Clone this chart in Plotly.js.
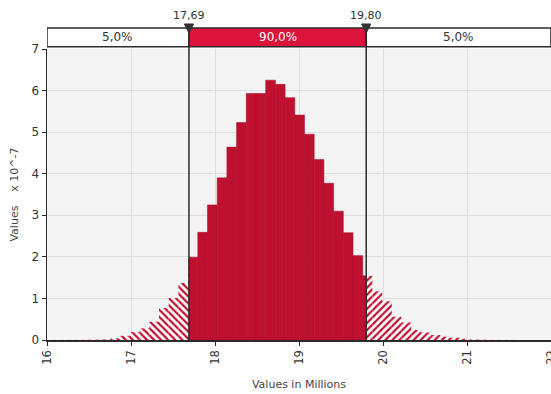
<!DOCTYPE html>
<html><head><meta charset="utf-8">
<script src="https://cdn.plot.ly/plotly-3.0.1.min.js"></script>
<style>html,body{margin:0;padding:0;background:#fff}#chart{width:551px;height:394px}</style>
</head><body><div id="chart"></div>
<script>
// ---- data (density values in units of 10^-7) ----
const binWidth = 0.1155;
const binLeft = [16.0625,16.178,16.2935,16.409,16.5245,16.640,16.7555,16.871,16.9865,17.102,17.2175,17.333,17.4485,17.564,17.6795,17.795,17.9105,18.026,18.1415,18.257,18.3725,18.488,18.6035,18.719,18.8345,18.95,19.0655,19.181,19.2965,19.412,19.5275,19.643,19.7585,19.874,19.9895,20.105,20.2205,20.336,20.4515,20.567,20.6825,20.798,20.9135,21.029,21.1445,21.26,21.3755,21.491];
const density = [0.002,0.003,0.004,0.005,0.008,0.015,0.04,0.10,0.19,0.28,0.44,0.77,1.01,1.37,1.99,2.59,3.25,3.90,4.64,5.23,5.93,5.93,6.25,6.15,5.83,5.41,4.95,4.34,3.77,3.10,2.58,2.03,1.545,1.17,0.93,0.56,0.42,0.24,0.18,0.12,0.08,0.055,0.03,0.01,0.006,0.004,0.003,0.002];
const pLow = 17.69, pHigh = 19.80;
const pLowLabel = "17,69", pHighLabel = "19,80";
const bandLabels = ["5,0%", "90,0%", "5,0%"];
const xTickVals = [16,17,18,19,20,21,22];
const xTickText = ["16","17","18","19","20","21","22"];
const yTickVals = [0,1,2,3,4,5,6,7];
const xRange = [16,22], yRange = [0,7];

function piece(lo, hi){
  const x=[], y=[], w=[];
  for(let i=0;i<binLeft.length;i++){
    const a=Math.max(binLeft[i],lo), b=Math.min(binLeft[i]+binWidth,hi);
    if(b-a>1e-9){ x.push((a+b)/2); w.push(b-a); y.push(density[i]); }
  }
  return {x,y,w};
}
const L=piece(-Infinity,pLow), M=piece(pLow,pHigh), R=piece(pHigh,Infinity);
const red='#c0102f';
const hatch = (shape)=>({color:red, line:{width:0}, pattern:{shape:shape, fillmode:'replace', bgcolor:'#ffffff', size:5, solidity:0.45}});
const traces=[
  {type:'bar', x:L.x, y:L.y, width:L.w, marker:hatch('\\'), hoverinfo:'skip'},
  {type:'bar', x:M.x, y:M.y, width:M.w, marker:{color:red, line:{color:'#a00c28', width:0.5}}, hoverinfo:'skip'},
  {type:'bar', x:R.x, y:R.y, width:R.w, marker:hatch('/'), hoverinfo:'skip'}
];

const bandY0=1.008, bandY1=1.072, triTop=1.086, triBot=1.055, lblY=1.115;
const triHalf=0.055;
const lineC='#2b2b2b';
const shapes=[
  {type:'rect', xref:'x', yref:'paper', x0:xRange[0], x1:pLow, y0:bandY0, y1:bandY1, fillcolor:'#ffffff', line:{color:lineC,width:1.5}, layer:'above'},
  {type:'rect', xref:'x', yref:'paper', x0:pLow, x1:pHigh, y0:bandY0, y1:bandY1, fillcolor:'#dc143c', line:{color:lineC,width:1.5}, layer:'above'},
  {type:'rect', xref:'x', yref:'paper', x0:pHigh, x1:xRange[1], y0:bandY0, y1:bandY1, fillcolor:'#ffffff', line:{color:lineC,width:1.5}, layer:'above'},
  {type:'line', xref:'x', yref:'paper', x0:pLow, x1:pLow, y0:0, y1:bandY1, line:{color:lineC,width:1.5}, layer:'above'},
  {type:'line', xref:'x', yref:'paper', x0:pHigh, x1:pHigh, y0:0, y1:bandY1, line:{color:lineC,width:1.5}, layer:'above'}
];
[pLow,pHigh].forEach(p=>{
  shapes.push({type:'path', xref:'x', yref:'paper', path:`M ${p-triHalf},${triTop} L ${p+triHalf},${triTop} L ${p},${triBot} Z`, fillcolor:'#333', line:{color:'#333',width:1}, layer:'above'});
});
const annotations=[
  {xref:'x', yref:'paper', x:pLow, y:lblY, text:pLowLabel, showarrow:false, yanchor:'middle', font:{size:11,color:'#333'}},
  {xref:'x', yref:'paper', x:pHigh, y:lblY, text:pHighLabel, showarrow:false, yanchor:'middle', font:{size:11,color:'#333'}},
  {xref:'x', yref:'paper', x:(xRange[0]+pLow)/2, y:(bandY0+bandY1)/2, text:bandLabels[0], showarrow:false, yanchor:'middle', font:{size:12,color:'#333'}},
  {xref:'x', yref:'paper', x:(pLow+pHigh)/2, y:(bandY0+bandY1)/2, text:bandLabels[1], showarrow:false, yanchor:'middle', font:{size:12,color:'#ffffff'}},
  {xref:'x', yref:'paper', x:(pHigh+xRange[1])/2, y:(bandY0+bandY1)/2, text:bandLabels[2], showarrow:false, yanchor:'middle', font:{size:12,color:'#333'}}
];
const layout={
  width:551, height:394, margin:{l:47,r:0,t:49,b:54},
  paper_bgcolor:'#ffffff', plot_bgcolor:'#f4f4f4',
  font:{family:'DejaVu Sans, Verdana, sans-serif', size:11, color:'#333'},
  barmode:'overlay', showlegend:false,
  xaxis:{range:xRange, tickvals:xTickVals, ticktext:xTickText, tickangle:-90, showgrid:true, gridcolor:'#dedede', gridwidth:1,
    showline:true, linecolor:lineC, linewidth:1.5, ticks:'outside', ticklen:4, tickcolor:lineC, zeroline:false, automargin:false,
    ticklabeloverflow:'allow',
    tickfont:{size:11.5,color:'#333'},
    title:{text:'Values in Millions', font:{size:11,color:'#444'}, standoff:16}},
  yaxis:{range:yRange, tickvals:yTickVals, showgrid:true, gridcolor:'#dedede', gridwidth:1,
    showline:true, linecolor:lineC, linewidth:1.5, ticks:'outside', ticklen:4, tickcolor:lineC, zeroline:false, automargin:false,
    tickfont:{size:12,color:'#333'},
    title:{text:'Values\u00a0\u00a0\u00a0\u00a0x 10^-7', font:{size:11,color:'#444'}, standoff:10}},
  shapes, annotations
};
Plotly.newPlot('chart', traces, layout, {displayModeBar:false, staticPlot:true});
</script></body></html>
